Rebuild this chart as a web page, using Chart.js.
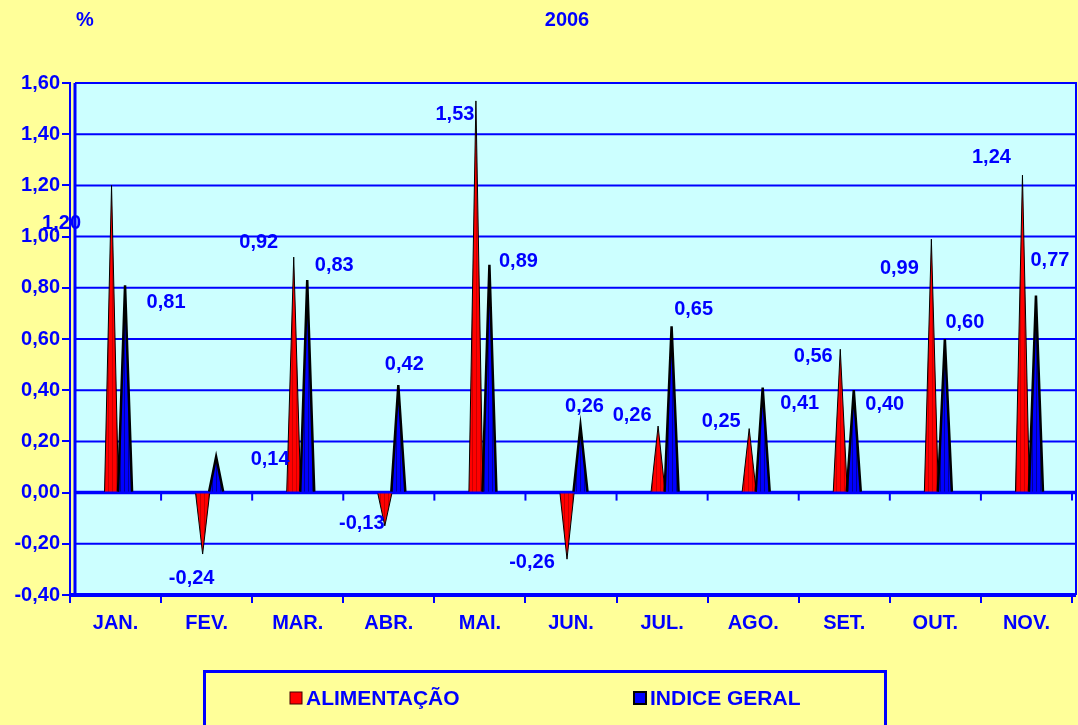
<!DOCTYPE html>
<html><head><meta charset="utf-8">
<script src="https://cdn.jsdelivr.net/npm/chart.js@4/dist/chart.umd.min.js"></script>
<style>html,body{margin:0;padding:0;background:#FFFF99;overflow:hidden}</style>
</head><body>
<div style="width:1078px;height:725px;position:relative"><canvas id="c" width="1078" height="725"></canvas></div>
<script>
// ---- data ----
const categories = ['JAN.','FEV.','MAR.','ABR.','MAI.','JUN.','JUL.','AGO.','SET.','OUT.','NOV.'];
const alimentacao = [1.20,-0.24,0.92,-0.13,1.53,-0.26,0.26,0.25,0.56,0.99,1.24];
const indiceGeral = [0.81,0.14,0.83,0.42,0.89,0.26,0.65,0.41,0.40,0.60,0.77];
const seriesNames = ['ALIMENTAÇÃO','INDICE GERAL'];
const yMin = -0.4, yMax = 1.6, yStep = 0.2;
const unitLabel = '%';
const yearLabel = '2006';

// ---- label placement (pixel offsets from spike tip) ----
const alimLabelOffset = [[-50,38],[-11,24],[-35,-15],[-23,-2],[-21,14],[-35,3],[-26,-11],[-28,-7],[-27,7],[-32,29],[-31,-18]];
const indiceLabelOffset = [[41,17],[54,3],[27,-15],[6,-21],[29,-3],[4,-20],[22,-17],[37,16],[31,14],[20,-17],[14,-35]];

const BLUE = '#0000FF';
const FONT = '"Liberation Sans", Arial, sans-serif';
const fmt = v => (Math.round(v*100)/100 + 0).toFixed(2).replace('.', ',').replace('-0,00','0,00');

function stripes(base, line) {
  const c = document.createElement('canvas'); c.width = 4; c.height = 4;
  const g = c.getContext('2d');
  g.fillStyle = base; g.fillRect(0,0,4,4);
  g.fillStyle = line; g.fillRect(0,0,1,4);
  return g.createPattern(c, 'repeat');
}
const redFill = stripes('#FF0000', '#C80000');
const blueFill = stripes('#0000FF', '#000099');

const bgPlugin = {
  id: 'bg',
  beforeDraw(chart) {
    const {ctx, chartArea: a, scales: {x, y}} = chart;
    ctx.save();
    ctx.fillStyle = '#FFFF99'; ctx.fillRect(0, 0, chart.width, chart.height);
    const L = a.left + 5, R = a.right + 4;
    ctx.fillStyle = '#CCFFFF'; ctx.fillRect(L, a.top, R - L, a.bottom - a.top);
    ctx.strokeStyle = BLUE; ctx.lineWidth = 2;
    y.ticks.forEach(t => {
      const py = y.getPixelForValue(t.value);
      ctx.beginPath(); ctx.moveTo(L, py); ctx.lineTo(R, py); ctx.stroke();
    });
    const cw = x.getPixelForValue(1) - x.getPixelForValue(0);
    const x0 = x.getPixelForValue(0) - cw / 2;
    // zero line with ticks
    const z = y.getPixelForValue(0);
    ctx.lineWidth = 3.5;
    ctx.beginPath(); ctx.moveTo(L, z); ctx.lineTo(R, z); ctx.stroke();
    ctx.lineWidth = 2;
    for (let i = 1; i <= categories.length; i++) {
      const bx = x0 + i * cw;
      ctx.beginPath(); ctx.moveTo(bx, z); ctx.lineTo(bx, z + 8); ctx.stroke();
    }
    // plot border
    ctx.lineWidth = 3;
    ctx.beginPath(); ctx.moveTo(L, a.bottom); ctx.lineTo(L, a.top); ctx.stroke();
    ctx.lineWidth = 2;
    ctx.beginPath(); ctx.moveTo(L, a.top); ctx.lineTo(R, a.top); ctx.lineTo(R, a.bottom); ctx.stroke();
    // outer value-axis line extension
    ctx.beginPath(); ctx.moveTo(a.left, a.bottom); ctx.lineTo(a.left, a.bottom + 8); ctx.stroke();
    // bottom axis
    ctx.lineWidth = 4;
    ctx.beginPath(); ctx.moveTo(a.left, a.bottom); ctx.lineTo(R, a.bottom); ctx.stroke();
    ctx.restore();
  }
};

const spikePlugin = {
  id: 'spikes',
  afterDatasetsDraw(chart) {
    const ctx = chart.ctx;
    const shift = 2.75, half = 7;
    const fills = [redFill, blueFill];
    const widths = [1, 2.5];
    const offs = [alimLabelOffset, indiceLabelOffset];
    ctx.save();
    chart.data.datasets.forEach((ds, di) => {
      const meta = chart.getDatasetMeta(di);
      meta.data.forEach((el, i) => {
        const px = el.x + shift, py = el.y, base = el.base;
        ctx.beginPath();
        ctx.moveTo(px - half, base); ctx.lineTo(px, py); ctx.lineTo(px + half, base);
        ctx.closePath();
        ctx.fillStyle = fills[di]; ctx.fill();
        ctx.beginPath();
        ctx.moveTo(px - half, base); ctx.lineTo(px, py); ctx.lineTo(px + half, base);
        ctx.strokeStyle = '#000000'; ctx.lineWidth = widths[di]; ctx.stroke();
      });
    });
    // value labels
    ctx.fillStyle = BLUE;
    ctx.font = 'bold 20px ' + FONT;
    ctx.textAlign = 'center'; ctx.textBaseline = 'middle';
    chart.data.datasets.forEach((ds, di) => {
      const meta = chart.getDatasetMeta(di);
      meta.data.forEach((el, i) => {
        const o = offs[di][i];
        ctx.fillText(fmt(ds.data[i]), el.x + shift + o[0], el.y + o[1]);
      });
    });
    ctx.restore();
  },
  afterDraw(chart) {
    const ctx = chart.ctx;
    ctx.save();
    ctx.fillStyle = BLUE;
    ctx.font = 'bold 20px ' + FONT;
    ctx.textAlign = 'center'; ctx.textBaseline = 'middle';
    ctx.fillText(unitLabel, 85, 20);
    ctx.fillText(yearLabel, 567, 20);
    // legend box
    ctx.strokeStyle = BLUE; ctx.lineWidth = 3;
    ctx.strokeRect(204.5, 671.5, 681, 70);
    const items = [
      {x: 290, fill: '#FF0000', stroke: '#400000', lw: 1},
      {x: 634, fill: '#0000FF', stroke: '#000000', lw: 2}
    ];
    ctx.font = 'bold 21px ' + FONT;
    ctx.textAlign = 'left';
    chart.data.datasets.forEach((ds, di) => {
      const it = items[di];
      ctx.fillStyle = it.fill; ctx.fillRect(it.x, 692, 12, 12);
      ctx.strokeStyle = it.stroke; ctx.lineWidth = it.lw; ctx.strokeRect(it.x, 692, 12, 12);
      ctx.fillStyle = BLUE;
      ctx.fillText(ds.label, it.x + 16, 699);
    });
    ctx.restore();
  }
};

new Chart(document.getElementById('c'), {
  type: 'bar',
  data: {
    labels: categories,
    datasets: [
      {label: seriesNames[0], data: alimentacao, backgroundColor: 'rgba(0,0,0,0)', borderWidth: 0, categoryPercentage: 0.2964, barPercentage: 1},
      {label: seriesNames[1], data: indiceGeral, backgroundColor: 'rgba(0,0,0,0)', borderWidth: 0, categoryPercentage: 0.2964, barPercentage: 1}
    ]
  },
  options: {
    responsive: false, animation: false, devicePixelRatio: 1,
    layout: {padding: {top: 83, right: 6, left: 0, bottom: 0}},
    plugins: {legend: {display: false}, tooltip: {enabled: false}},
    scales: {
      x: {
        offset: true,
        grid: {offset: true, drawOnChartArea: false, tickLength: 8, color: BLUE, lineWidth: 2},
        border: {display: false},
        ticks: {color: BLUE, font: {family: FONT, weight: 'bold', size: 20}, padding: 8, maxRotation: 0, autoSkip: false},
        afterFit(s) { s.height = 130; }
      },
      y: {
        min: yMin, max: yMax,
        ticks: {stepSize: yStep, color: BLUE, font: {family: FONT, weight: 'bold', size: 20}, padding: 2, callback: v => fmt(v)},
        grid: {drawOnChartArea: false, tickLength: 8, color: BLUE, lineWidth: 2},
        border: {display: true, color: BLUE, width: 2},
        afterFit(s) { s.width = 70; }
      }
    }
  },
  plugins: [bgPlugin, spikePlugin]
});
</script>
</body></html>
